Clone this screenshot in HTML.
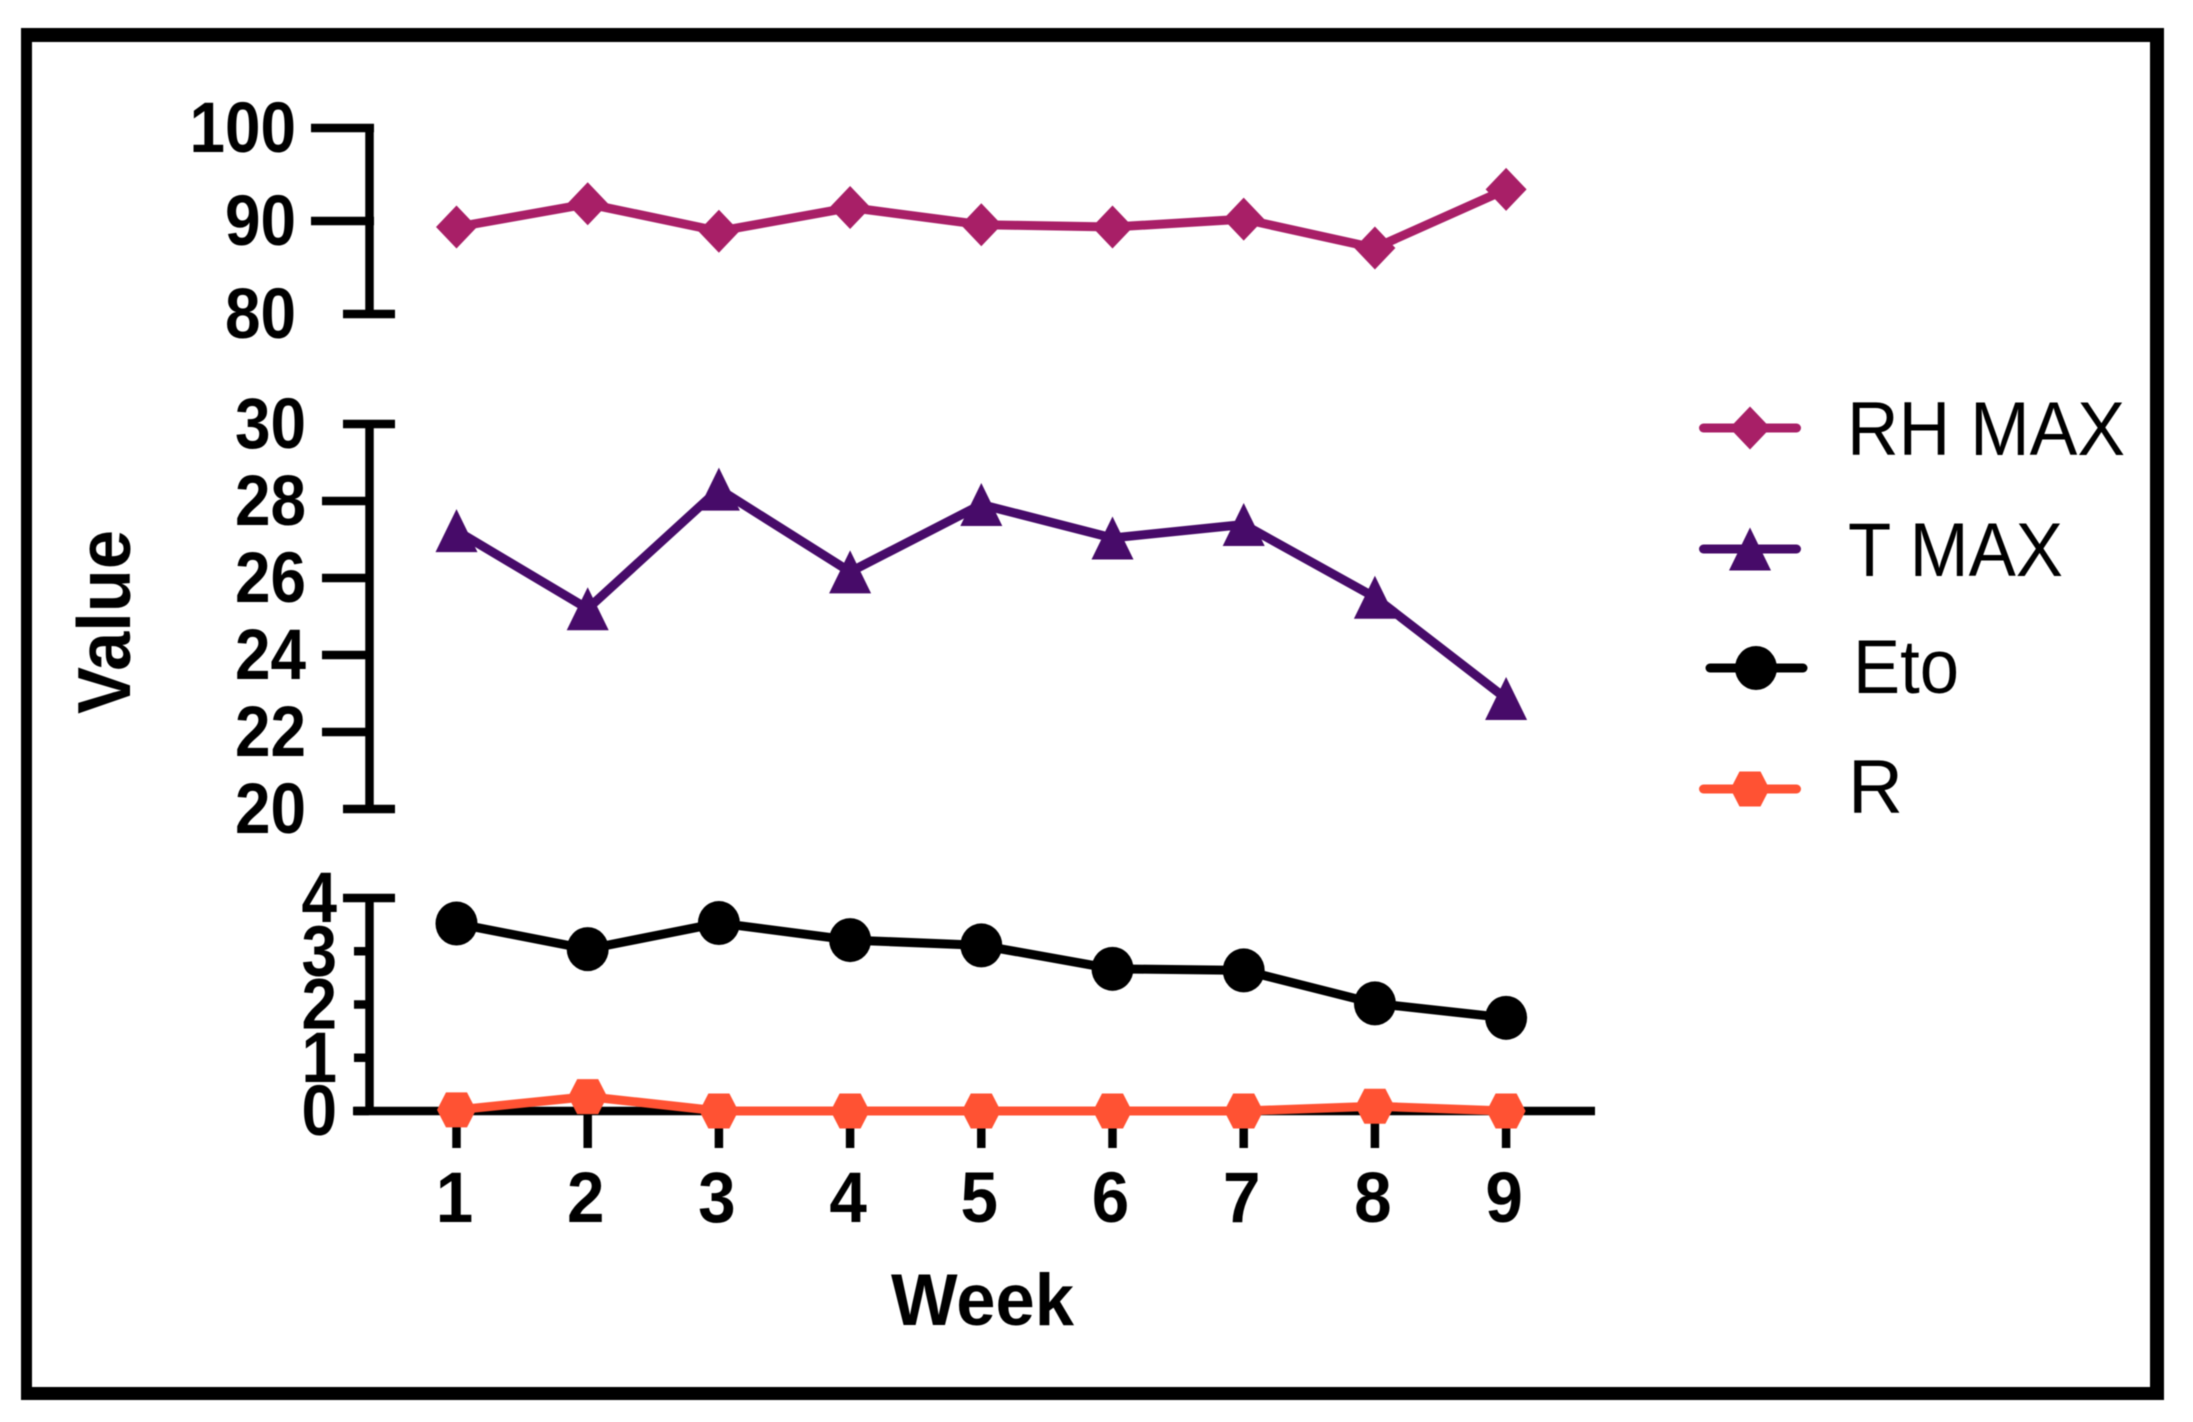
<!DOCTYPE html>
<html lang="en">
<head>
<meta charset="utf-8">
<title>Weekly weather values</title>
<style>
html,body{margin:0;padding:0;background:#fff;width:2193px;height:1422px;overflow:hidden}
#chart{position:absolute;left:0;top:0;width:2193px;height:1422px;filter:blur(.6px)}
text{font-family:"Liberation Sans",Arial,sans-serif;fill:#000}
.bold{font-weight:700}
</style>
</head>
<body>
<svg id="chart" xmlns="http://www.w3.org/2000/svg" width="2193" height="1422" viewBox="0 0 2193 1422">
  <path fill="#000" fill-rule="evenodd" d="M21 28H2164V1400H21ZM32 42V1387H2150V42Z"/>
  <g id="axes"></g>
  <g id="series"></g>
  <g id="legend"></g>
  <text class="bold" x="891" y="1325" font-size="73" textLength="183" lengthAdjust="spacingAndGlyphs">Week</text>
  <text class="bold" transform="translate(130 714) rotate(-90)" font-size="75" textLength="184" lengthAdjust="spacingAndGlyphs">Value</text>
</svg>
<script>
const weeks = [1, 2, 3, 4, 5, 6, 7, 8, 9];
const rhMax = [89.35, 91.85, 88.9, 91.45, 89.6, 89.35, 90.2, 87.1, 93.4];
const tMax = [27.23, 25.2, 28.31, 26.16, 27.91, 27.04, 27.39, 25.5, 22.87];
const eto = [3.52, 3.04, 3.53, 3.21, 3.11, 2.67, 2.64, 2.02, 1.75];
const rain = [0.02, 0.27, 0, 0, 0, 0, 0, 0.09, 0];
const rhTicks = [100, 90, 80];
const tTicks = [30, 28, 26, 24, 22, 20];
const lowTicks = [4, 3, 2, 1, 0];
const legendNames = ['RH MAX', 'T MAX', 'Eto', 'R'];

const NS = 'http://www.w3.org/2000/svg';
const axesG = document.getElementById('axes');
const seriesG = document.getElementById('series');
const legendG = document.getElementById('legend');

function make(tag, attrs, parent, text) {
  const el = document.createElementNS(NS, tag);
  for (const k in attrs) el.setAttribute(k, attrs[k]);
  if (text !== undefined) el.textContent = text;
  parent.appendChild(el);
  return el;
}

function xPos(week) { return 456.5 + (week - 1) * 131.2; }
function yRh(v) { return 128 + (100 - v) * 9.3; }
function yT(v) { return 424 + (30 - v) * 38.5; }
function yLow(v) { return 1111 - v * 53.25; }

function axisLine(x1, y1, x2, y2) {
  const el = make('line', {x1: x1, y1: y1, x2: x2, y2: y2, stroke: '#000', 'stroke-width': 8.5}, axesG);
  
  
}

function tickLabel(label, right, y) {
  const s = String(label);
  const el = make('text', {x: right - s.length * 35.5, y: y + 24, 'font-size': 71, 'font-weight': 700, textLength: s.length * 35.5, lengthAdjust: 'spacingAndGlyphs'}, axesG, s);
  
  
}

/* RH axis */
axisLine(369.5, yRh(100) - 4, 369.5, yRh(80));
rhTicks.forEach(function (t, i) {
  const end = i === rhTicks.length - 1;
  axisLine(end ? 343 : 311, yRh(t), end ? 395 : 374, yRh(t));
  tickLabel(t, 296, yRh(t));
});

/* T axis */
axisLine(369.5, yT(30), 369.5, yT(20));
tTicks.forEach(function (t, i) {
  const end = i === 0 || i === tTicks.length - 1;
  axisLine(end ? 343 : 322, yT(t), end ? 395 : 369, yT(t));
  tickLabel(t, 306, yT(t));
});

/* Low axis */
axisLine(369.5, yLow(4), 369.5, yLow(0));
lowTicks.forEach(function (t, i) {
  const first = i === 0;
  axisLine(first ? 343 : 354, yLow(t), first ? 395 : 369, yLow(t));
  tickLabel(t, 337, yLow(t));
});

/* X axis */
axisLine(353, yLow(0), 1595, yLow(0));
weeks.forEach(function (w) {
  axisLine(xPos(w), yLow(0), xPos(w), 1148);
  const el = make('text', {x: xPos(w) - 2, y: 1222, 'font-size': 71, 'font-weight': 700, 'text-anchor': 'middle', textLength: 37.5, lengthAdjust: 'spacingAndGlyphs'}, axesG, String(w));
  
  
});

function drawMarker(kind, cx, cy, color, parent) {
  let el;
  if (kind === 'diamond') {
    el = make('polygon', {points: [cx, cy - 21.5, cx + 20.5, cy, cx, cy + 21.5, cx - 20.5, cy].join(' '), fill: color}, parent);
  } else if (kind === 'triangle') {
    el = make('polygon', {points: [cx, cy - 21.5, cx + 21, cy + 21.5, cx - 21, cy + 21.5].join(' '), fill: color}, parent);
  } else if (kind === 'circle') {
    el = make('ellipse', {cx: cx, cy: cy, rx: 21, ry: 22, fill: color}, parent);
  } else {
    el = make('polygon', {points: [cx - 10.5, cy - 17.5, cx + 10.5, cy - 17.5, cx + 19.5, cy, cx + 10.5, cy + 17.5, cx - 10.5, cy + 17.5, cx - 19.5, cy].join(' '), fill: color}, parent);
  }
  
  
}

function drawSeries(values, yFn, color, kind, name) {
  const pts = values.map(function (v, i) { return xPos(weeks[i]) + ',' + yFn(v); }).join(' ');
  const line = make('polyline', {points: pts, fill: 'none', stroke: color, 'stroke-width': 9, 'stroke-linejoin': 'round'}, seriesG);
  
  
  values.forEach(function (v, i) {
    drawMarker(kind, xPos(weeks[i]), yFn(v), color, seriesG);
  });
}

const RH_COLOR = '#a81f67';
const T_COLOR = '#470b69';
const ETO_COLOR = '#000000';
const R_COLOR = '#ff5233';

drawSeries(rhMax, yRh, RH_COLOR, 'diamond', 'rh-max');
drawSeries(tMax, yT, T_COLOR, 'triangle', 't-max');
drawSeries(eto, yLow, ETO_COLOR, 'circle', 'eto');
drawSeries(rain, yLow, R_COLOR, 'hexagon', 'r');

/* Legend */
function legendEntry(label, color, kind, lineX, markerX, y, textX, baseline, textLen) {
  const line = make('line', {x1: lineX + 4, y1: y, x2: lineX + 97, y2: y, stroke: color, 'stroke-width': 9, 'stroke-linecap': 'round'}, legendG);
  
  
  drawMarker(kind, markerX, y, color, legendG);
  const t = make('text', {x: textX, y: baseline, 'font-size': 76, textLength: textLen, lengthAdjust: 'spacingAndGlyphs'}, legendG, label);
  
  
}
legendEntry(legendNames[0], RH_COLOR, 'diamond', 1699.5, 1750, 428, 1847, 455, 278);
legendEntry(legendNames[1], T_COLOR, 'triangle', 1699.5, 1750, 549, 1848, 576, 215);
legendEntry(legendNames[2], ETO_COLOR, 'circle', 1706, 1756, 668, 1853, 693, 106);
legendEntry(legendNames[3], R_COLOR, 'hexagon', 1699.5, 1750, 789, 1848, 813, 55);
</script>
</body>
</html>
